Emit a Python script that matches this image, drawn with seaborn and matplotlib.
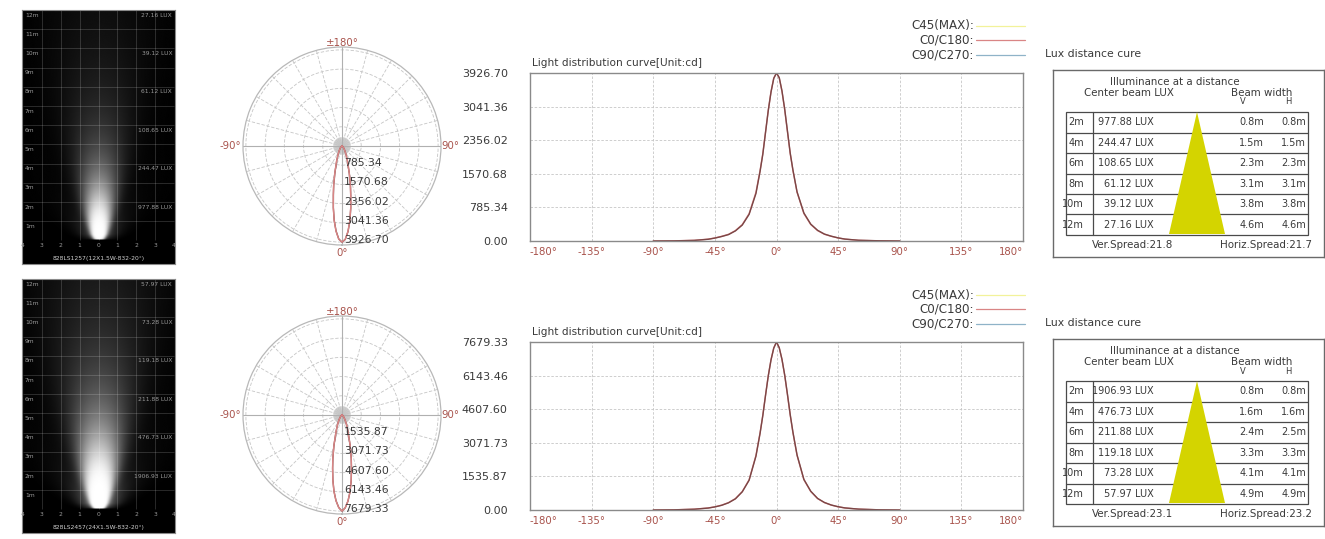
import numpy as np
import pandas as pd
import seaborn as sns
import matplotlib.pyplot as plt
from matplotlib.lines import Line2D
from matplotlib.patches import Rectangle, Polygon

W, H = 1325, 539

# ---------------- data ----------------
angles = [-90, -75, -60, -50, -45, -40, -35, -30, -25, -20, -15, -12, -10, -8, -6, -4, -2, 0,
          2, 4, 6, 8, 10, 12, 15, 20, 25, 30, 35, 40, 45, 50, 60, 75, 90]

top_c0 = [0, 4, 16, 43, 71, 110, 157, 243, 385, 640, 1139, 1649, 2042, 2552, 3063, 3495, 3810, 3926.70,
          3810, 3495, 3063, 2552, 2042, 1649, 1139, 640, 385, 243, 157, 110, 71, 43, 16, 4, 0]
top_c90 = [0, 3, 14, 40, 68, 105, 150, 236, 372, 622, 1110, 1625, 2025, 2540, 3050, 3480, 3800, 3926.70,
           3820, 3510, 3080, 2570, 2060, 1660, 1150, 655, 395, 250, 162, 112, 73, 45, 17, 5, 0]
bot_c0 = [0, 8, 38, 92, 146, 223, 338, 522, 845, 1382, 2496, 3532, 4339, 5260, 6143, 6873, 7411, 7679.33,
          7411, 6873, 6143, 5260, 4339, 3532, 2496, 1382, 845, 522, 338, 223, 146, 92, 38, 8, 0]
bot_c90 = [0, 7, 35, 88, 140, 215, 330, 510, 830, 1360, 2460, 3500, 4310, 5240, 6130, 6860, 7400, 7679.33,
           7420, 6890, 6170, 5290, 4370, 3560, 2520, 1400, 860, 530, 344, 228, 150, 95, 40, 9, 0]

top_peak = 3926.70
bot_peak = 7679.33
top_cd_labels = ["0.00", "785.34", "1570.68", "2356.02", "3041.36", "3926.70"]
bot_cd_labels = ["0.00", "1535.87", "3071.73", "4607.60", "6143.46", "7679.33"]

distances = [2, 4, 6, 8, 10, 12]
top_lux = [977.88, 244.47, 108.65, 61.12, 39.12, 27.16]
top_v = [0.8, 1.5, 2.3, 3.1, 3.8, 4.6]
top_h = [0.8, 1.5, 2.3, 3.1, 3.8, 4.6]
bot_lux = [1906.93, 476.73, 211.88, 119.18, 73.28, 57.97]
bot_v = [0.8, 1.6, 2.4, 3.3, 4.1, 4.9]
bot_h = [0.8, 1.6, 2.5, 3.3, 4.1, 4.9]
top_spread = (21.8, 21.7)
bot_spread = (23.1, 23.2)
top_model = "828LS1257(12X1.5W-832-20°)"
bot_model = "828LS2457(24X1.5W-832-20°)"

# ---------------- style ----------------
RED = "#a8524b"
TXT = "#3a3a3a"
GRID = "#c6c6c6"
C45_COLOR = "#f2f29a"
C0_COLOR = "#d98585"
C90_COLOR = "#7a4646"
YELLOW = "#d4d400"

sns.set_style("white")
plt.rcParams["font.family"] = ["DejaVu Sans"]

fig = plt.figure(figsize=(W / 100, H / 100), dpi=100)


def rect(x0, y0, x1, y1):
    return [x0 / W, 1 - y1 / H, (x1 - x0) / W, (y1 - y0) / H]


def ftext(x, y, s, **kw):
    fig.text(x / W, 1 - y / H, s, **kw)


def beam_panel(dy, peak, spread, lux, caption):
    ax = fig.add_axes(rect(22, 10 + dy, 175, 264 + dy))
    ax.set_facecolor("black")
    xs = np.linspace(-4, 4, 320)
    ds = np.linspace(0, 12, 480)
    X, D = np.meshgrid(xs, ds)
    sigma = 0.15 + D * np.tan(np.radians(spread / 2)) / 1.18
    E = peak / (D ** 2 + 1.0) * np.clip(D / 0.3, 0, 1) ** 0.5
    L = E * np.exp(-X ** 2 / (2 * sigma ** 2)) + 0.05 * E * np.exp(-X ** 2 / (2 * (3 * sigma) ** 2))
    B = 1 - np.exp(-L / 500)
    ax.imshow(B, extent=(-4, 4, 0, 12), origin="lower", cmap="gray", vmin=0, vmax=1,
              aspect="auto", interpolation="bilinear")
    ax.hlines(range(1, 12), -4, 4, color="white", alpha=0.16, lw=0.7)
    ax.vlines(range(-3, 4), 0, 12, color="white", alpha=0.16, lw=0.7)
    for m in range(1, 13):
        ax.text(-3.9, m - 0.27, f"{m}m", color="#9a9a9a", fontsize=4.3, ha="left", va="center")
    for d, v in zip(distances, lux):
        ax.text(3.9, d - 0.27, f"{v:.2f} LUX", color="#9a9a9a", fontsize=4.3, ha="right", va="center")
    for i in range(-4, 5):
        ax.text(i, -0.27, str(abs(i)), color="#9a9a9a", fontsize=4.3, ha="center", va="center")
    ax.text(0, -0.92, caption, color="#d0d0d0", fontsize=4.3, ha="center", va="center")
    ax.set_xlim(-4.05, 4.05)
    ax.set_ylim(-1.23, 12)
    ax.set_xticks([])
    ax.set_yticks([])
    for s in ax.spines.values():
        s.set_color("#8a8a8a")
        s.set_linewidth(0.8)


def polar_panel(dy, peak, c0, c90, labels):
    ax = fig.add_axes(rect(243, 47 + dy, 441, 245 + dy), projection="polar")
    ax.set_theta_zero_location("S")
    ax.set_theta_direction(1)
    rings = [peak * k / 5 for k in range(1, 6)]
    ax.set_ylim(0, peak * 1.03)
    ax.set_rgrids(rings, labels=[])
    ax.set_thetagrids(np.arange(0, 360, 15), labels=[])
    ax.grid(True, color=GRID, ls=(0, (4, 2)), lw=0.6)
    for a in np.arange(0, 360, 5):
        ax.plot([np.radians(a)] * 2, [0, rings[0] * 0.45], color=GRID, lw=0.5)
    for a in (0, 90, 180, 270):
        ax.plot([np.radians(a)] * 2, [0, peak * 1.03], color="#b0b0b0", lw=0.8)
    ax.spines["polar"].set_color("#b8b8b8")
    ax.spines["polar"].set_linewidth(0.9)
    th = np.radians(angles)
    sns.lineplot(x=th, y=c90, ax=ax, color=C90_COLOR, lw=1.0, sort=False)
    sns.lineplot(x=th, y=c0, ax=ax, color=C0_COLOR, lw=1.0, sort=False)
    ax.set_xlabel("")
    ax.set_ylabel("")
    for r, lab in zip(rings, labels[1:]):
        ax.annotate(lab, xy=(0, r), xytext=(1.5, 1.5), textcoords="offset points",
                    ha="left", va="center", fontsize=7.8, color=TXT)
    ftext(342, 43 + dy, "±180°", ha="center", va="center", fontsize=7.3, color=RED)
    ftext(342, 253 + dy, "0°", ha="center", va="center", fontsize=7.3, color=RED)
    ftext(241, 146 + dy, "-90°", ha="right", va="center", fontsize=7.3, color=RED)
    ftext(441, 146 + dy, "90°", ha="left", va="center", fontsize=7.3, color=RED)


def curve_panel(dy, peak, c0, c90, labels):
    ax = fig.add_axes(rect(530, 73 + dy, 1023, 241 + dy))
    n = len(angles)
    df = pd.DataFrame({"angle": angles * 2, "cd": c0 + c90,
                       "plane": ["C0/C180"] * n + ["C90/C270"] * n})
    sns.lineplot(data=df, x="angle", y="cd", hue="plane", ax=ax, legend=False, lw=1.0,
                 palette={"C0/C180": C0_COLOR, "C90/C270": C90_COLOR})
    ax.set_xlim(-180, 180)
    ax.set_ylim(0, peak)
    ticks = list(range(-180, 181, 45))
    ax.set_xticks(ticks)
    ax.set_xticklabels([f"{t}°" for t in ticks], color=RED, fontsize=7.3)
    xl = ax.get_xticklabels()
    xl[0].set_ha("left")
    xl[-1].set_ha("right")
    ax.set_yticks([peak * k / 5 for k in range(6)])
    ax.set_yticklabels(labels, fontsize=8, color=TXT)
    ax.tick_params(length=0)
    ax.tick_params(axis="y", pad=16)
    ax.tick_params(axis="x", pad=4)
    ax.grid(True, color=GRID, ls=(0, (3, 2)), lw=0.6)
    for s in ax.spines.values():
        s.set_color("#8a8a8a")
        s.set_linewidth(1.0)
    ax.set_xlabel("")
    ax.set_ylabel("")
    ftext(532, 63 + dy, "Light distribution curve[Unit:cd]", ha="left", va="center",
          fontsize=7.6, color=TXT)
    for y, name, col in [(26, "C45(MAX):", C45_COLOR), (40, "C0/C180:", C0_COLOR),
                         (55, "C90/C270:", C90_COLOR if False else "#8fb3c8")]:
        ftext(974, y + dy, name, ha="right", va="center", fontsize=8.6, color=TXT)
        fig.add_artist(Line2D([976 / W, 1025 / W], [1 - (y + dy) / H] * 2, color=col, lw=0.9))


def table_panel(dy, lux, v, h, spread):
    ftext(1045, 54 + dy, "Lux distance cure", ha="left", va="center", fontsize=7.8, color=TXT)
    ax = fig.add_axes(rect(1053, 70 + dy, 1324, 257 + dy))
    ax.set_xlim(0, 271)
    ax.set_ylim(187, 0)
    ax.set_xticks([])
    ax.set_yticks([])
    for s in ax.spines.values():
        s.set_color("#6a6a6a")
        s.set_linewidth(1.0)
    left, right, top, bottom = 13, 255, 42, 165
    rh = (bottom - top) / len(distances)
    ax.add_patch(Rectangle((left, top), right - left, bottom - top, fill=False, ec="#4a4a4a", lw=0.9))
    for i in range(1, len(distances)):
        ax.plot([left, right], [top + i * rh] * 2, color="#4a4a4a", lw=0.9)
    ax.plot([40, 40], [top, bottom], color="#4a4a4a", lw=0.9)
    ax.add_patch(Polygon([(144, top), (116, bottom - 1), (172, bottom - 1)], closed=True,
                         fc=YELLOW, ec="none", zorder=3))
    ax.text(122, 12, "Illuminance at a distance", ha="center", va="center", fontsize=7.4, color=TXT)
    ax.text(76, 23, "Center beam LUX", ha="center", va="center", fontsize=7.4, color=TXT)
    ax.text(209, 23, "Beam width", ha="center", va="center", fontsize=7.4, color=TXT)
    ax.text(190, 32, "V", ha="center", va="center", fontsize=6, color=TXT)
    ax.text(235, 32, "H", ha="center", va="center", fontsize=6, color=TXT)
    for i, (d, lx, vv, hh) in enumerate(zip(distances, lux, v, h)):
        y = top + (i + 0.5) * rh
        ax.text(31, y, f"{d}m", ha="right", va="center", fontsize=7, color=TXT)
        ax.text(101, y, f"{lx:.2f} LUX", ha="right", va="center", fontsize=7, color=TXT)
        ax.text(211, y, f"{vv:.1f}m", ha="right", va="center", fontsize=7, color=TXT)
        ax.text(253, y, f"{hh:.1f}m", ha="right", va="center", fontsize=7, color=TXT)
    ax.text(80, 175, f"Ver.Spread:{spread[0]}", ha="center", va="center", fontsize=7.4, color=TXT)
    ax.text(213, 175, f"Horiz.Spread:{spread[1]}", ha="center", va="center", fontsize=7.4, color=TXT)


for dy, peak, c0, c90, labs, lux, v, h, spread, model in [
        (0, top_peak, top_c0, top_c90, top_cd_labels, top_lux, top_v, top_h, top_spread, top_model),
        (269, bot_peak, bot_c0, bot_c90, bot_cd_labels, bot_lux, bot_v, bot_h, bot_spread, bot_model)]:
    beam_panel(dy, peak, spread[0], lux, model)
    polar_panel(dy, peak, c0, c90, labs)
    curve_panel(dy, peak, c0, c90, labs)
    table_panel(dy, lux, v, h, spread)

fig.savefig("out.png", dpi=100, facecolor="white")
